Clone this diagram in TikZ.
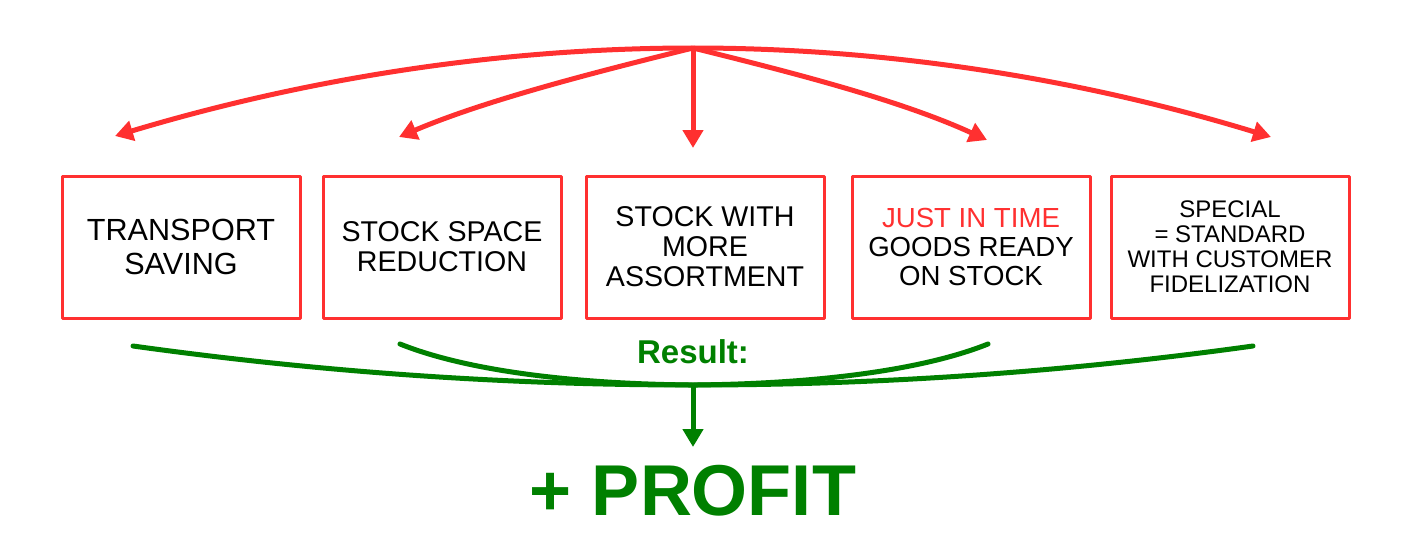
\documentclass[tikz,border=0pt]{standalone}
\usepackage{fontspec}
\setmainfont{Liberation Sans}
\usetikzlibrary{arrows.meta}
\definecolor{arrowred}{RGB}{255,48,48}
\definecolor{resultgreen}{RGB}{0,128,0}

\begin{document}
\begin{tikzpicture}[x=0.5pt, y=-0.5pt, >={Triangle[length=9pt,width=10pt]}, line join=round]
 % Define block styles
	\tikzstyle{block} = [rectangle, draw=arrowred, line width=1.5pt, minimum width=119pt, minimum height=71pt, inner sep=0pt, align=center]
	\tikzstyle{redline} = [->, draw=arrowred, line width=2.5pt]
	\tikzstyle{greenline} = [draw=resultgreen, line width=2.5pt, line cap=round]
\useasboundingbox (0,0) rectangle (1410,557);
%%====Blocchi=====================================================================
	\node	[block, font=\fontsize{15.3}{16.6}\selectfont]	(transport)	at (181,247)	{TRANSPORT\\SAVING};
	\node	[block, font=\fontsize{14.3}{15}\selectfont]	(space)		at (442,247)	{STOCK SPACE\\REDUCTION};
	\node	[block, font=\fontsize{14.3}{15}\selectfont]	(assort)	at (705,247)	{STOCK WITH\\MORE\\ASSORTMENT};
	\node	[block, font=\fontsize{13.8}{14.5}\selectfont]	(jit)		at (971,247)	{\textcolor{arrowred}{JUST IN TIME}\\GOODS READY\\ON STOCK};
	\node	[block, font=\fontsize{12}{12.5}\selectfont]	(special)	at (1230,247)	{SPECIAL\\= STANDARD\\WITH CUSTOMER\\FIDELIZATION};
	\node	[text=resultgreen, font=\bfseries\fontsize{16.5}{18}\selectfont]	(result)	at (693,352)	{Result:};
	\node	[text=resultgreen, font=\bfseries\fontsize{36}{40}\selectfont]	(profit)	at (693,491)	{+ PROFIT};
%%====Punti=======================================================================
	\coordinate (top)	at (693,48);
	\coordinate (t1)	at (115,136);
	\coordinate (t2)	at (399,137);
	\coordinate (t3)	at (693,148);
	\coordinate (t4)	at (987,140);
	\coordinate (t5)	at (1271,137);
	\coordinate (g1)	at (133,346);
	\coordinate (g2)	at (400,344);
	\coordinate (g4)	at (988,344);
	\coordinate (g5)	at (1253,346);
	\coordinate (bottom)	at (693,385);
	\coordinate (down)	at (693,447);
%%====Frecce======================================================================
	\draw [redline] (top) .. controls (501,48) and (308,78) .. (t1);
	\draw [redline] (top) .. controls (596,72) and (486,100) .. (t2);
	\draw [redline] (top) -- (t3);
	\draw [redline] (top) .. controls (790,72) and (900,100) .. (t4);
	\draw [redline] (top) .. controls (885,48) and (1078,78) .. (t5);
	\draw [greenline] (g1) .. controls (320,372) and (506,385) .. (bottom) .. controls (880,385) and (1066,372) .. (g5);
	\draw [greenline] (g2) .. controls (470,372) and (580,384) .. (bottom) .. controls (806,384) and (918,372) .. (g4);
	\draw [greenline, ->, line cap=butt] (bottom) -- (down);
\end{tikzpicture}
\end{document}
